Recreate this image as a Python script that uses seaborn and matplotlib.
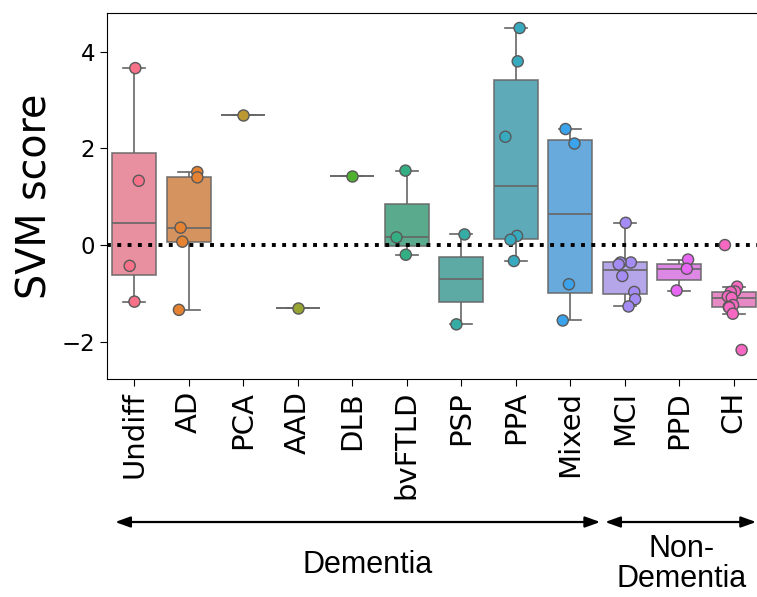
import numpy as np
import pandas as pd
import matplotlib
matplotlib.use("Agg")
import matplotlib.pyplot as plt
import seaborn as sns

plt.rcParams["font.family"] = ["DejaVu Sans"]

# group labels (x axis)
groups = ["Undiff", "AD", "PCA", "AAD", "DLB", "bvFTLD", "PSP", "PPA",
          "Mixed", "MCI", "PPD", "CH"]

# SVM scores per group
undiff = [3.66, 1.33, -0.43, -1.17]
ad = [1.51, 1.40, 0.36, 0.07, -1.34]
pca = [2.69]
aad = [-1.30]
dlb = [1.42]
bvftld = [1.54, 0.16, -0.20]
psp = [0.22, -1.64]
ppa = [4.49, 3.80, 2.24, 0.19, 0.11, -0.33]
mixed = [2.40, 2.10, -0.81, -1.56]
mci = [0.46, -0.36, -0.36, -0.40, -0.64, -0.97, -1.12, -1.27]
ppd = [-0.30, -0.49, -0.94]
ch = [0.0, -0.86, -0.96, -0.97, -1.06, -1.09, -1.24, -1.28, -1.29, -1.42, -2.17]

scores = [undiff, ad, pca, aad, dlb, bvftld, psp, ppa, mixed, mci, ppd, ch]

df = pd.DataFrame({
    "group": [g for g, vals in zip(groups, scores) for _ in vals],
    "score": [v for vals in scores for v in vals],
})

palette = sns.color_palette("husl", len(groups))

fig = plt.figure(figsize=(7.57, 5.97), dpi=100)
# axes runs slightly past the right edge, like the cropped original
ax = fig.add_axes([0.1413, 0.3652, 0.864, 0.613])

sns.boxplot(data=df, x="group", y="score", hue="group", order=groups,
            hue_order=groups, palette=palette, showfliers=False,
            linecolor="0.4", linewidth=1.2, boxprops=dict(alpha=0.88),
            legend=False, ax=ax)
ax.axhline(0, color="black", linestyle=":", linewidth=2.8, zorder=2.5)

np.random.seed(3)
sns.stripplot(data=df, x="group", y="score", hue="group", order=groups,
              hue_order=groups, palette=palette, jitter=0.2, size=8,
              linewidth=1, edgecolor="0.35", legend=False, zorder=3, ax=ax)

ax.set_xlim(-0.5, 11.5)
ax.set_ylim(-2.77, 4.8)
ax.set_yticks([-2, 0, 2, 4])
ax.set_xlabel("")
ax.set_ylabel("SVM score", fontsize=28.5)
ax.tick_params(axis="y", labelsize=16.5, length=5)
ax.tick_params(axis="x", labelsize=21, labelrotation=90, length=5)

# group brackets under the tick labels
arrow = dict(arrowstyle="<|-|>,head_length=0.5,head_width=0.18",
             color="black", lw=1.6, shrinkA=0, shrinkB=0, mutation_scale=18)
coords = ("data", "figure fraction")
ax.annotate("", xy=(-0.35, 0.1256), xytext=(8.55, 0.1256), xycoords=coords,
            textcoords=coords, arrowprops=arrow, annotation_clip=False)
ax.annotate("", xy=(8.64, 0.1256), xytext=(11.41, 0.1256), xycoords=coords,
            textcoords=coords, arrowprops=arrow, annotation_clip=False)
ax.annotate("Dementia", xy=(4.28, 0.0536), xycoords=coords, ha="center",
            va="center", fontsize=22, family="Liberation Sans",
            annotation_clip=False)
ax.annotate("Non-\nDementia", xy=(10.04, 0.056), xycoords=coords,
            ha="center", va="center", fontsize=22, linespacing=1.0,
            family="Liberation Sans", annotation_clip=False)

plt.savefig("out.png", dpi=100)
plt.close()
